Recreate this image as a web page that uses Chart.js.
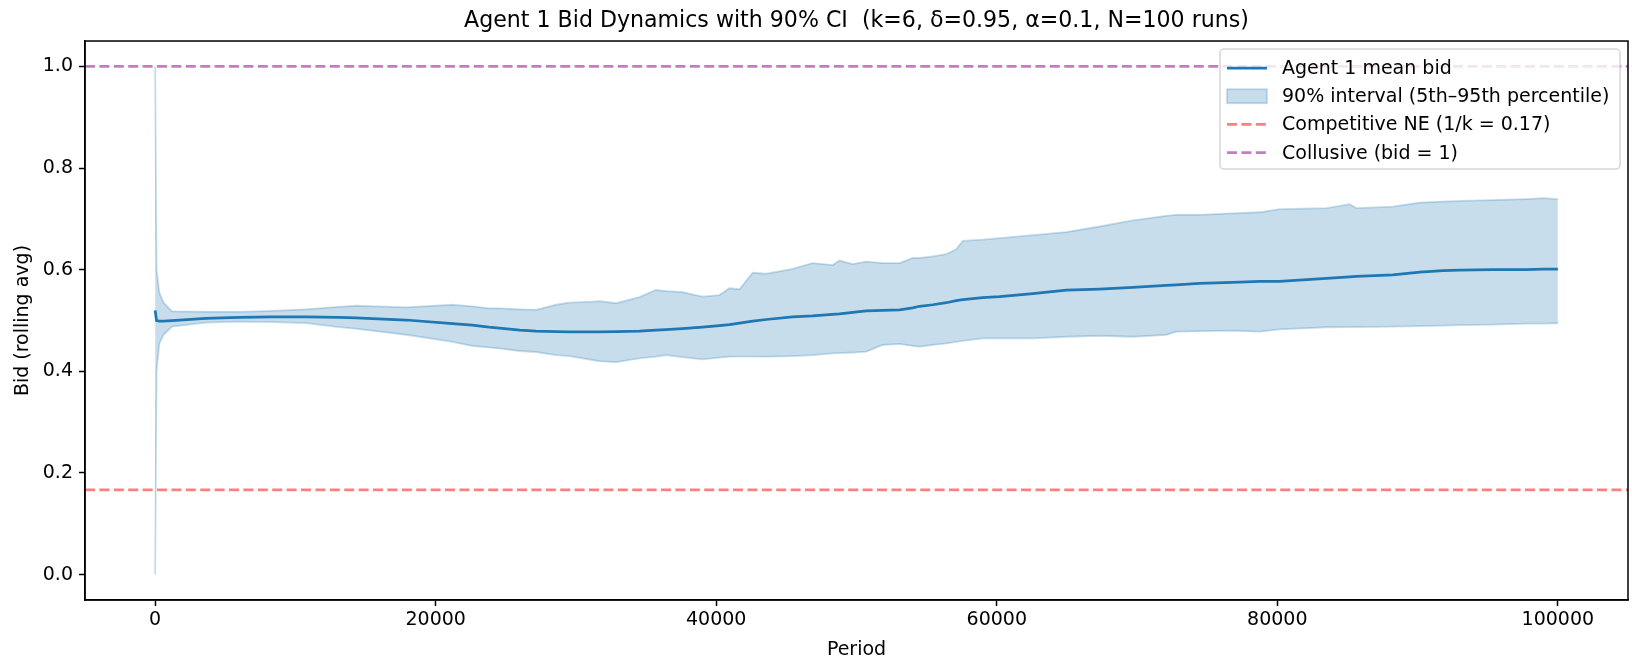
<!DOCTYPE html>
<html>
<head>
<meta charset="utf-8">
<script src="https://cdn.jsdelivr.net/npm/chart.js@4.4.0/dist/chart.umd.min.js"></script>
<style>
  body { margin: 0; background: #fff; }
  canvas { display: block; }
</style>
</head>
<body>
<canvas id="chartBids" width="1632" height="661"></canvas>
<script>
// Period (x)
const periods = [
    0, 100, 300, 600, 1200, 3600, 6000, 8400, 10750, 13100, 14300, 17900,
    21200, 22600, 23800, 24540, 26000, 27150, 28580, 29530, 31170, 31670,
    32860, 34520, 35710, 36420, 37590, 39020, 40230, 40940, 41660, 42600,
    43560, 45440, 46870, 48300, 48780, 49730, 50700, 51860, 53070, 54010,
    54490, 55440, 56400, 57110, 57580, 59000, 60200, 61390, 62580, 64950,
    67330, 69700, 72080, 72800, 74460, 76820, 78740, 80170, 83500, 85160,
    85640, 88230, 90160, 91800, 93010, 95370, 97760, 98950, 100000
];

const meanBid = [
    0.520, 0.500, 0.499, 0.499, 0.500, 0.504, 0.506, 0.507, 0.507, 0.506, 0.505, 0.501,
    0.494, 0.491, 0.487, 0.485, 0.481, 0.479, 0.478, 0.4775, 0.4775, 0.4775,
    0.478, 0.479, 0.481, 0.482, 0.484, 0.487, 0.490, 0.492, 0.495, 0.499,
    0.502, 0.507, 0.509, 0.512, 0.513, 0.516, 0.519, 0.520, 0.521, 0.525,
    0.528, 0.531, 0.535, 0.539, 0.541, 0.545, 0.547, 0.550, 0.553, 0.560,
    0.562, 0.565, 0.569, 0.570, 0.573, 0.575, 0.577, 0.577, 0.583, 0.586,
    0.587, 0.590, 0.595, 0.598, 0.599, 0.600, 0.600, 0.601, 0.601
];

// 95th percentile
const upperBid = [
    1.000, 0.600, 0.555, 0.535, 0.518, 0.517, 0.517, 0.519, 0.522, 0.527, 0.529, 0.526,
    0.531, 0.528, 0.524, 0.524, 0.522, 0.521, 0.531, 0.535, 0.537, 0.538,
    0.534, 0.546, 0.560, 0.558, 0.556, 0.547, 0.550, 0.5635, 0.5615, 0.594,
    0.592, 0.6015, 0.613, 0.609, 0.618, 0.611, 0.616, 0.613, 0.613, 0.623,
    0.623, 0.626, 0.6305, 0.640, 0.6566, 0.659, 0.662, 0.665, 0.668, 0.674,
    0.685, 0.697, 0.706, 0.708, 0.708, 0.711, 0.713, 0.719, 0.721, 0.729,
    0.721, 0.724, 0.732, 0.734, 0.7354, 0.737, 0.739, 0.7407, 0.7387
];

// 5th percentile
const lowerBid = [
    0.000, 0.400, 0.455, 0.472, 0.488, 0.496, 0.498, 0.497, 0.495, 0.487, 0.484, 0.472,
    0.458, 0.450, 0.447, 0.445, 0.440, 0.438, 0.432, 0.430, 0.4223, 0.420,
    0.418, 0.4256, 0.429, 0.432, 0.428, 0.4237, 0.427, 0.4288, 0.429, 0.429,
    0.4288, 0.430, 0.432, 0.4355, 0.436, 0.437, 0.4387, 0.452, 0.454, 0.450,
    0.4485, 0.452, 0.455, 0.458, 0.460, 0.465, 0.465, 0.465, 0.465, 0.468,
    0.470, 0.468, 0.4716, 0.478, 0.479, 0.480, 0.478, 0.4827, 0.4867, 0.487,
    0.487, 0.488, 0.489, 0.490, 0.491, 0.492, 0.494, 0.494, 0.4946
];

const competitiveNE = 0.1667;
const collusiveBid = 1.0;
const xRange = [-5000, 105000];
const yRange = [-0.05, 1.05];
const xTickValues = [0, 20000, 40000, 60000, 80000, 100000];
const yTickValues = [0.0, 0.2, 0.4, 0.6, 0.8, 1.0];

const legendItems = [
    { label: "Agent 1 mean bid", kind: "line", color: "#1f77b4", dash: [] },
    { label: "90% interval (5th\u201395th percentile)", kind: "box", color: "rgba(31, 119, 180, 0.25)" },
    { label: "Competitive NE (1/k = 0.17)", kind: "line", color: "rgba(255, 0, 0, 0.5)", dash: [10, 4.4] },
    { label: "Collusive (bid = 1)", kind: "line", color: "rgba(128, 0, 128, 0.5)", dash: [10, 4.4] }
];

const toPoints = (xs, ys) => xs.map((x, i) => ({ x: x, y: ys[i] }));
const hLine = (y) => xRange.map(x => ({ x: x, y: y }));

Chart.defaults.font.family = "'DejaVu Sans', sans-serif";
Chart.defaults.color = "#000";

// Frame and legend box drawn like matplotlib
const frameAndLegend = {
    id: "frameAndLegend",
    afterDraw(chart) {
        const ctx = chart.ctx;
        const area = chart.chartArea;
        ctx.save();
        ctx.strokeStyle = "#000";
        ctx.lineWidth = 1.5;
        ctx.strokeRect(area.left, area.top, area.right - area.left, area.bottom - area.top);

        // legend
        const boxRight = area.right - 8;
        const boxLeft = boxRight - 400;
        const boxTop = area.top + 8;
        const boxHeight = 120;
        ctx.beginPath();
        ctx.roundRect(boxLeft, boxTop, boxRight - boxLeft, boxHeight, 4);
        ctx.fillStyle = "rgba(255, 255, 255, 0.8)";
        ctx.fill();
        ctx.strokeStyle = "rgba(204, 204, 204, 0.8)";
        ctx.lineWidth = 1.5;
        ctx.stroke();

        ctx.font = "19px 'DejaVu Sans'";
        ctx.textBaseline = "middle";
        ctx.textAlign = "left";
        legendItems.forEach((item, i) => {
            const cy = boxTop + 19 + i * 28.2;
            const hx = boxLeft + 7;
            if (item.kind === "box") {
                ctx.fillStyle = item.color;
                ctx.fillRect(hx, cy - 7, 40, 14);
                ctx.strokeStyle = item.color;
                ctx.lineWidth = 1.8;
                ctx.strokeRect(hx, cy - 7, 40, 14);
            } else {
                ctx.beginPath();
                ctx.setLineDash(item.dash);
                ctx.strokeStyle = item.color;
                ctx.lineWidth = 2.75;
                ctx.moveTo(hx, cy);
                ctx.lineTo(hx + 40, cy);
                ctx.stroke();
                ctx.setLineDash([]);
            }
            ctx.fillStyle = "#000";
            ctx.fillText(item.label, boxLeft + 62, cy + 1);
        });
        ctx.restore();
    }
};

const chartBids = new Chart(document.getElementById("chartBids"), {
    type: "line",
    data: {
        datasets: [
            {
                label: "Agent 1 mean bid",
                data: toPoints(periods, meanBid),
                borderColor: "#1f77b4",
                borderWidth: 2.75,
                pointRadius: 0,
                fill: false
            },
            {
                label: "Competitive NE (1/k = 0.17)",
                data: hLine(competitiveNE),
                borderColor: "rgba(255, 0, 0, 0.5)",
                borderWidth: 2.75,
                borderDash: [10, 4.4],
                pointRadius: 0,
                fill: false
            },
            {
                label: "Collusive (bid = 1)",
                data: hLine(collusiveBid),
                borderColor: "rgba(128, 0, 128, 0.5)",
                borderWidth: 2.75,
                borderDash: [10, 4.4],
                pointRadius: 0,
                fill: false
            },
            {
                label: "95th percentile",
                data: toPoints(periods, upperBid),
                borderColor: "rgba(31, 119, 180, 0.25)",
                backgroundColor: "rgba(31, 119, 180, 0.25)",
                borderWidth: 1.8,
                pointRadius: 0,
                fill: "+1"
            },
            {
                label: "5th percentile",
                data: toPoints(periods, lowerBid),
                borderColor: "rgba(31, 119, 180, 0.25)",
                borderWidth: 1.8,
                pointRadius: 0,
                fill: false
            }
        ]
    },
    options: {
        responsive: false,
        animation: false,
        devicePixelRatio: 1,
        layout: { padding: { left: 0, right: 4, top: 0, bottom: 0 } },
        elements: { line: { tension: 0 } },
        plugins: {
            legend: { display: false },
            tooltip: { enabled: false },
            title: {
                display: true,
                fullSize: false,
                text: "Agent 1 Bid Dynamics with 90% CI  (k=6, \u03b4=0.95, \u03b1=0.1, N=100 runs)",
                font: { size: 22.1, weight: "normal" },
                color: "#000",
                padding: { top: 7.5, bottom: 7 }
            }
        },
        scales: {
            x: {
                type: "linear",
                min: xRange[0],
                max: xRange[1],
                afterBuildTicks: scale => { scale.ticks = xTickValues.map(v => ({ value: v })); },
                afterFit: scale => { scale.height = 61; },
                ticks: {
                    font: { size: 19 },
                    color: "#000",
                    padding: 3,
                    maxRotation: 0,
                    callback: value => String(value)
                },
                grid: { drawOnChartArea: false, drawTicks: true, tickLength: 6, tickColor: "#000", tickWidth: 1.5 },
                border: { display: true, color: "#000", width: 1.5 },
                title: { display: true, text: "Period", font: { size: 19 }, color: "#000", padding: { top: 0, bottom: 0 } }
            },
            y: {
                type: "linear",
                min: yRange[0],
                max: yRange[1],
                afterBuildTicks: scale => { scale.ticks = yTickValues.map(v => ({ value: v })); },
                afterFit: scale => { scale.width = 85; },
                ticks: {
                    font: { size: 19 },
                    color: "#000",
                    padding: 6,
                    callback: value => value.toFixed(1)
                },
                grid: { drawOnChartArea: false, drawTicks: true, tickLength: 6, tickColor: "#000", tickWidth: 1.5 },
                border: { display: true, color: "#000", width: 1.5 },
                title: { display: true, text: "Bid (rolling avg)", font: { size: 19 }, color: "#000", padding: { top: 12, bottom: 0 } }
            }
        }
    },
    plugins: [frameAndLegend]
});
</script>
</body>
</html>
